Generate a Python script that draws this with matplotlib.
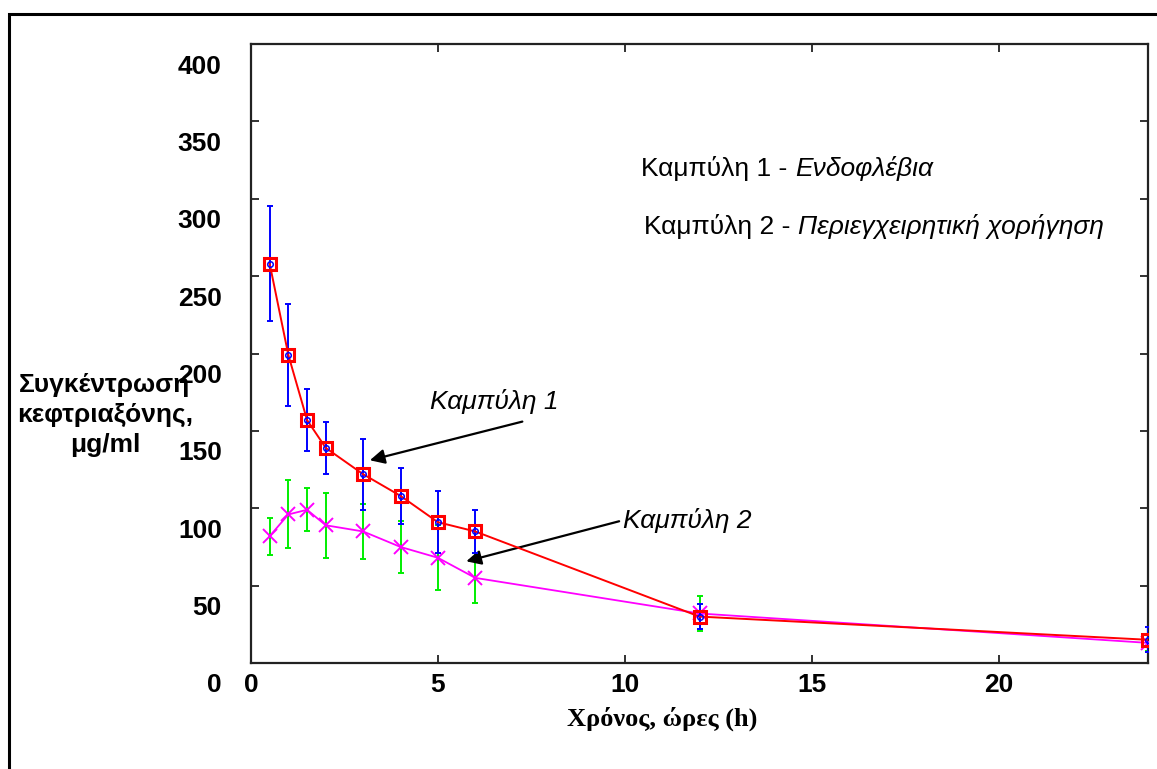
import matplotlib
import matplotlib.pyplot as plt
from matplotlib.patches import Rectangle
from matplotlib.transforms import ScaledTranslation

matplotlib.use('Agg')

plt.rcParams['font.family'] = ['Liberation Sans', 'DejaVu Sans']

# time points (h) and mean concentrations with their error bars
hours = [0.5, 1, 1.5, 2, 3, 4, 5, 6, 12, 24]
curve1 = [258, 199, 157, 139, 122, 108, 91, 85, 30, 15]
curve1_err = [37, 33, 20, 17, 23, 18, 20, 14, 8, 8]
curve2 = [82, 96, 99, 89, 85, 75, 68, 55, 32, 13]
curve2_err = [12, 22, 14, 21, 18, 17, 21, 16, 11, 5]

x_ticks = [0, 5, 10, 15, 20]
y_ticks = [0, 50, 100, 150, 200, 250, 300, 350, 400]

W, H = 1157, 769
fig = plt.figure(figsize=(W / 100, H / 100), dpi=100)
ax = fig.add_axes([251 / W, 1 - 663 / H, (1148 - 251) / W, (663 - 44) / H])

# outer frame (cut by the image edge on right and bottom)
fig.patches.append(Rectangle((9 / W, -0.2), 1.5, 1.2 - 14 / H,
                             transform=fig.transFigure, fill=False,
                             lw=2.2, ec='black', zorder=0))

# curve 2 first, so curve 1 sits on top
ax.errorbar(hours, curve2, yerr=curve2_err, fmt='none', ecolor='#00ee00',
            elinewidth=1.4, capsize=2.5, capthick=1.4, zorder=2)
ax.plot(hours, curve2, color='#ff00ff', lw=1.3, marker='x', ms=10,
        mew=1.4, zorder=3)

ax.errorbar(hours, curve1, yerr=curve1_err, fmt='none', ecolor='#0000ff',
            elinewidth=1.4, capsize=2.5, capthick=1.4, zorder=4)
ax.plot(hours, curve1, color='#ff0000', lw=1.4, marker='s', ms=8,
        mfc='none', mec='#ff0000', mew=2.2, zorder=5)
ax.plot(hours, curve1, ls='none', marker='o', ms=4, mfc='none',
        mec='#0000ff', mew=1.1, zorder=6)

ax.set_xlim(0, 24)
ax.set_ylim(0, 400)

for s in ax.spines.values():
    s.set_linewidth(1.6)
    s.set_color('#222222')

ax.set_xticks(x_ticks)
ax.set_xticklabels([str(v) for v in x_ticks])
ax.set_yticks(y_ticks)
ax.set_yticklabels([str(v) for v in y_ticks])
ax.tick_params(direction='in', length=6, width=1.3, top=True, right=True,
               labelsize=19, color='#222222')
ax.tick_params(axis='x', pad=7)
ax.tick_params(axis='y', pad=21)
for lab in ax.get_xticklabels() + ax.get_yticklabels():
    lab.set_fontweight('bold')
# the y labels sit a bit below their ticks in the original
shift = ScaledTranslation(0, -0.2, fig.dpi_scale_trans)
for lab in ax.get_yticklabels():
    lab.set_transform(lab.get_transform() + shift)

fig.text(105 / W, 1 - 415 / H, 'Συγκέντρωση\nκεφτριαξόνης,\nμg/ml',
         ha='center', va='center', multialignment='center',
         fontsize=19, fontweight='bold', linespacing=1.3)

fig.text(662 / W, 1 - 719 / H, 'Χρόνος, ώρες (h)', ha='center', va='center',
         fontsize=19, fontweight='bold', family='Liberation Serif')

# legend-like notes
t1 = ax.text(10.44, 315, 'Καμπύλη 1 - ', fontsize=19, va='baseline')
ax.annotate('Ενδοφλέβια', xy=(1, 315), xycoords=(t1, 'data'),
            fontsize=19, style='italic', va='baseline')
t2 = ax.text(10.52, 277.5, 'Καμπύλη 2 - ', fontsize=19, va='baseline')
ax.annotate('Περιεγχειρητική χορήγηση', xy=(1, 277.5), xycoords=(t2, 'data'),
            fontsize=19, style='italic', va='baseline')

# curve callouts
arrow = dict(arrowstyle='-|>', color='black', lw=1.6, mutation_scale=22,
             shrinkA=0, shrinkB=0)
ax.annotate('', xy=(3.18, 131), xytext=(7.26, 156), arrowprops=arrow)
ax.text(4.78, 169, 'Καμπύλη 1', fontsize=19, style='italic', va='center')
ax.annotate('', xy=(5.76, 65.7), xytext=(9.85, 91.6), arrowprops=arrow)
ax.text(9.95, 92, 'Καμπύλη 2', fontsize=19, style='italic', va='center')

plt.savefig('out.png', dpi=100)
